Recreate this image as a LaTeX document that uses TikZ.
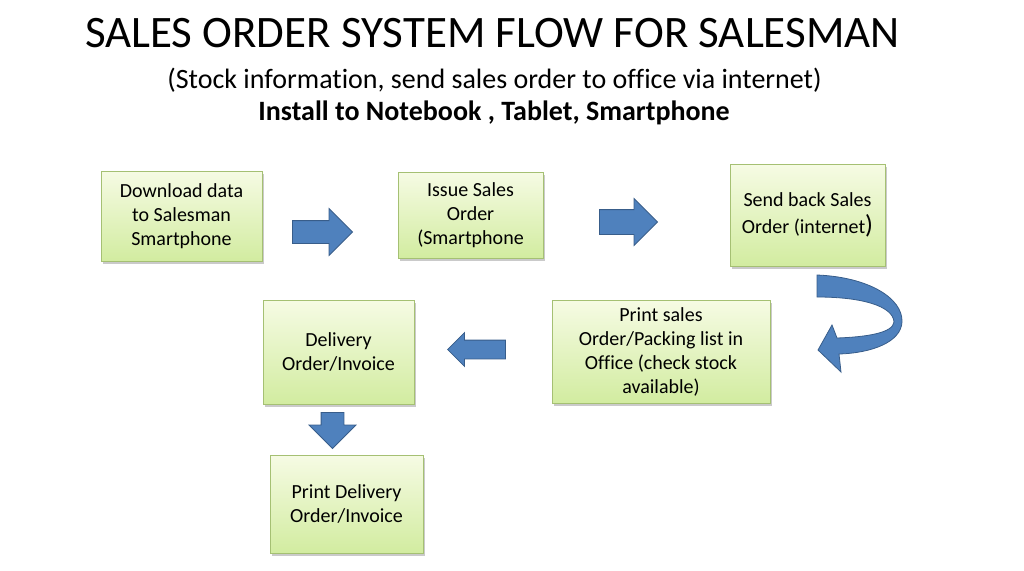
\documentclass[tikz,border=0pt]{standalone}
\usepackage{fontspec}
\setmainfont{Carlito}[Ligatures=NoCommon]
\usetikzlibrary{shapes.arrows,shadows}

\definecolor{boxtop}{RGB}{246,251,228}
\definecolor{boxbottom}{RGB}{210,236,160}
\definecolor{boxline}{RGB}{165,192,115}
\definecolor{arrowfill}{RGB}{79,129,189}
\definecolor{arrowline}{RGB}{56,93,138}

\begin{document}
\begin{tikzpicture}[x=1pt,y=-1pt,
		stepbox/.style={draw=boxline, line width=0.8pt, top color=boxtop, bottom color=boxbottom,
			align=center, inner sep=0pt, font=\fontsize{20}{24}\selectfont,
			drop shadow={shadow xshift=2pt, shadow yshift=-3pt, opacity=0.35, fill=black!60}},
		blockarrow/.style={single arrow, draw=arrowline, fill=arrowfill, line width=0.8pt,
			inner sep=0pt, single arrow tip angle=90, anchor=tip}]
		
		\useasboundingbox (0,0) rectangle (1024,570);
		
		% Titles
		\node[anchor=base, font=\fontsize{45}{54}\selectfont] (title) at (492.5,47) {SALES ORDER SYSTEM FLOW FOR SALESMAN};
		\node[anchor=base, font=\fontsize{28}{32}\selectfont] (subtitle) at (494.5,88) {(Stock information, send sales order to office via internet)};
		\node[anchor=base, font=\fontsize{28}{32}\selectfont\bfseries] (install) at (494,120) {Install to Notebook , Tablet, Smartphone};
		
		% Top row
		\node[stepbox, minimum width=161pt, minimum height=90pt] (download) at (181.5,216) {Download data\\to Salesman\\Smartphone};
		\node[stepbox, minimum width=145pt, minimum height=86pt] (issue) at (470.5,215) {Issue Sales\\Order\\(Smartphone};
		\node[stepbox, minimum width=155pt, minimum height=102pt] (sendback) at (807.5,215) {Send back Sales\\[3pt]Order (internet{\fontsize{26}{24}\selectfont)}};
		
		% Bottom rows
		\node[stepbox, minimum width=218pt, minimum height=103pt] (printsales) at (661,351.5) {Print sales\\Order/Packing list in\\Office (check stock\\available)};
		\node[stepbox, minimum width=151pt, minimum height=104pt] (delivery) at (338.5,352) {Delivery\\Order/Invoice};
		\node[stepbox, minimum width=153pt, minimum height=98pt] (printdelivery) at (346.5,504) {Print Delivery\\Order/Invoice};
		
		% Draw block arrows
		\node[blockarrow, inner ysep=11pt, single arrow head extend=12pt, minimum height=60pt] (arrowa) at (353,232) {};
		\node[blockarrow, inner ysep=12pt, single arrow head extend=11pt, minimum height=58pt] (arrowb) at (658,222) {};
		\node[blockarrow, rotate=180, inner ysep=9pt, single arrow head extend=7.5pt, minimum height=58pt] (arrowc) at (447,349.5) {};
		\node[blockarrow, rotate=-90, inner ysep=11pt, single arrow head extend=12pt, minimum height=36pt] (arrowd) at (332.5,449) {};
		
		% Draw curved arrow
		\draw[arrowline, fill=arrowfill, line width=0.8pt] (817,275)
			.. controls (868,277) and (903,298) .. (902,322)
			.. controls (901,342) and (872,353) .. (839,354)
			-- (841,372) -- (818,350) -- (832,325) -- (837,338)
			.. controls (866,337) and (893,333) .. (894,322)
			.. controls (893,306) and (862,297) .. (817,297) -- cycle;
		
\end{tikzpicture}
\end{document}
